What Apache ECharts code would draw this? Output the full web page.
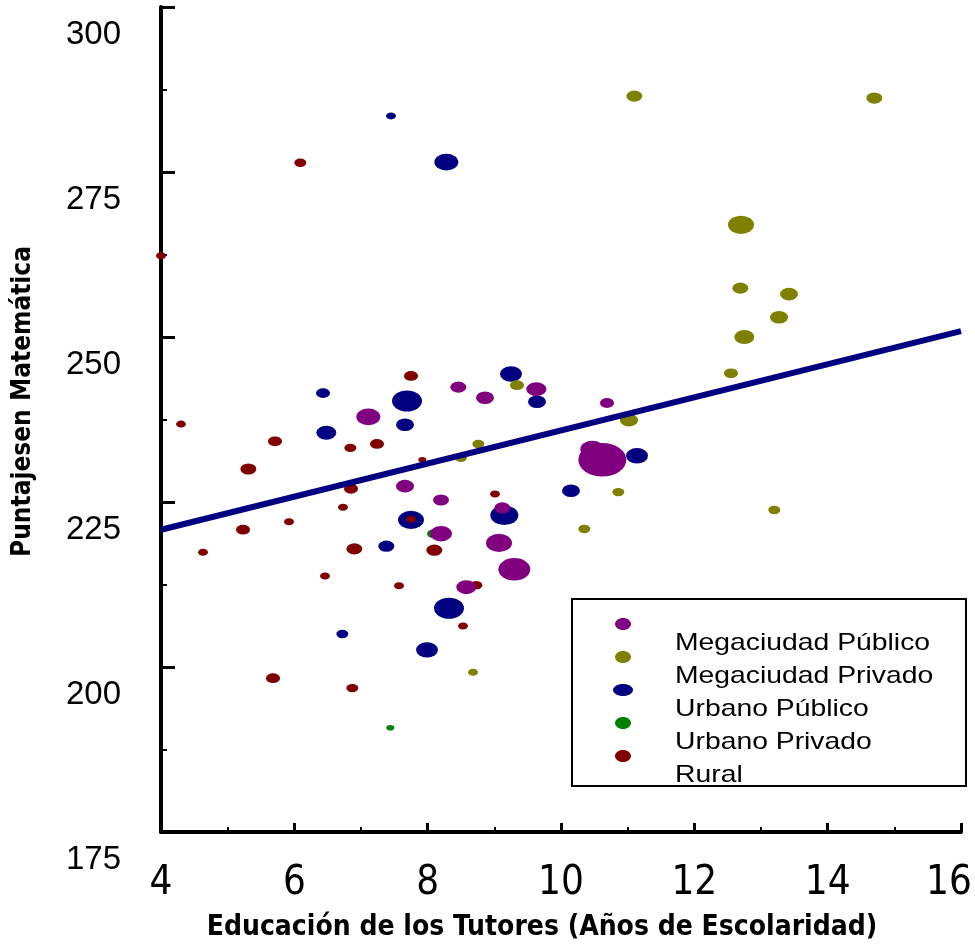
<!DOCTYPE html>
<html>
<head>
<meta charset="utf-8">
<script src="https://cdn.jsdelivr.net/npm/echarts@6/dist/echarts.min.js"></script>
<style>
html,body{margin:0;padding:0;background:#fff;}
#c{width:975px;height:945px;}
</style>
</head>
<body>
<div id="c"></div>
<script>
// ---- data ----
var categories = ['Megaciudad Público','Megaciudad Privado','Urbano Público','Urbano Privado','Rural'];
var colors = ['#800080','#808000','#000080','#008000','#800000'];
var xTicks = [4,6,8,10,12,14,16];
var yTicks = [175,200,225,250,275,300];
// [educación, puntaje, peso]
var megaPublico = [
  [9.63,242.1,10],[8.86,240.8,9],[10.69,240.0,7],[10.47,233.0,12],[10.62,231.4,24],
  [9.12,224.1,8],[9.07,218.8,13],[9.30,214.8,16],[8.46,242.4,8],[7.11,237.9,12],
  [7.66,227.4,9],[8.20,225.3,8],[8.20,220.2,11],[8.58,212.1,10]
];
var megaPrivado = [
  [11.10,286.5,8],[14.70,286.2,8],[12.70,267.0,13],[12.69,257.4,8],[13.42,256.5,9],
  [13.27,253.0,9],[12.75,250.0,10],[12.55,244.5,7],[9.34,242.7,7],[11.02,237.4,9],
  [8.76,233.8,6],[10.86,226.5,6],[13.20,223.8,6],[10.35,220.9,6],[8.50,231.7,6],[8.68,199.2,5]
];
var urbanoPublico = [
  [7.45,283.5,5],[8.28,276.5,12],[9.25,244.4,11],[9.64,240.2,9],[11.14,232.0,11],
  [10.15,226.7,9],[9.15,223.0,14],[6.43,241.5,7],[7.69,240.3,15],[7.66,236.7,9],
  [6.48,235.5,10],[7.75,222.3,13],[7.38,218.3,8],[8.32,208.9,15],[6.72,205.0,6],[7.99,202.6,11]
];
var urbanoPrivado = [
  [8.08,220.2,6],[7.44,190.8,4]
];
var rural = [
  [4.00,262.3,5],[6.09,276.4,6],[9.01,226.2,5],[7.75,244.1,7],[4.30,236.8,5],
  [5.71,234.2,7],[6.84,233.2,6],[7.24,233.8,7],[5.31,230.0,8],[7.92,231.4,4],
  [6.85,227.0,7],[6.73,224.2,5],[7.75,222.4,5],[5.92,222.0,5],[5.23,220.8,7],
  [8.10,217.7,8],[6.90,217.9,8],[4.63,217.4,5],[6.46,213.8,5],[7.57,212.3,5],
  [8.73,212.4,6],[8.53,206.2,5],[5.68,198.3,7],[6.87,196.8,6]
];
var regX = [4,16];
var regY = [220.8,250.9];

// ---- chart ----
var chart = echarts.init(document.getElementById('c'), null, {renderer:'canvas'});
var seriesData = [megaPublico, megaPrivado, urbanoPublico, urbanoPrivado, rural];
var drawOrder = [2,4,3,1,0];
function sz(v){ return [v[2]*2, v[2]*1.4]; }
var series = drawOrder.map(function(i, k){
  return {
    type:'scatter', name:categories[i], data:seriesData[i],
    symbol:'circle', symbolSize:sz, z:2+k,
    itemStyle:{color:colors[i], opacity:1},
    emphasis:{disabled:true}, silent:true
  };
});
series.push({
  type:'line', name:'tendencia', data:regX.map(function(x,i){return [x,regY[i]];}),
  showSymbol:false, z:20, silent:true,
  lineStyle:{color:'#000080', width:6}
});

var legendGraphics = [{
  type:'rect', left:571, top:598, z:30,
  shape:{width:394, height:187},
  style:{fill:'#fff', stroke:'#000', lineWidth:2}
}];
categories.forEach(function(name,i){
  legendGraphics.push({
    type:'ellipse', z:31, shape:{cx:623, cy:624+i*33, rx:(i===2?10:8), ry:6},
    style:{fill:colors[i]}
  });
  legendGraphics.push({
    type:'text', z:31, x:675, y:643+i*33, scaleX:1.18,
    style:{text:name, fill:'#000', font:'24px "Liberation Sans", Arial, sans-serif', verticalAlign:'middle'}
  });
});

var narrow = '"Liberation Sans Narrow", "DejaVu Sans Condensed", "Liberation Sans", sans-serif';
var lastX = xTicks[xTicks.length-1];

chart.setOption({
  animation:false,
  backgroundColor:'#fff',
  grid:{left:161, right:14, top:7, bottom:113, containLabel:false, outerBoundsMode:'none'},
  xAxis:{
    type:'value', min:4, max:16, interval:2,
    name:'Educación de los Tutores (Años de Escolaridad)',
    nameLocation:'middle', nameGap:82,
    nameTextStyle:{fontFamily:narrow, fontWeight:'bold', fontSize:28, color:'#000', padding:[0,38,0,0]},
    axisLine:{show:true, onZero:false, lineStyle:{color:'#000', width:4}},
    axisTick:{show:true, inside:true, length:9, lineStyle:{color:'#000', width:3}},
    minorTick:{show:true, splitNumber:2, length:5, lineStyle:{color:'#000', width:2}},
    axisLabel:{fontFamily:narrow, fontSize:40, color:'#000', margin:32,
      rich:{r:{fontFamily:narrow, fontSize:40, color:'#000', padding:[0,24,0,0]}},
      formatter:function(v){
        if (xTicks.indexOf(v) < 0) return '';
        return v === lastX ? '{r|' + v + '}' : String(v);
      }},
    splitLine:{show:false}
  },
  yAxis:{
    type:'value', min:175, max:300, interval:25,
    name:'Puntajesen Matemática',
    nameLocation:'middle', nameGap:125, nameRotate:90,
    nameTextStyle:{fontFamily:narrow, fontWeight:'bold', fontSize:26, color:'#000', padding:[0,0,0,36]},
    axisLine:{show:true, onZero:false, lineStyle:{color:'#000', width:4}},
    axisTick:{show:true, inside:true, length:14, lineStyle:{color:'#000', width:3}},
    minorTick:{show:true, splitNumber:2, length:6, lineStyle:{color:'#000', width:2}},
    axisLabel:{fontFamily:'"Liberation Sans", Arial, sans-serif', fontSize:33, color:'#000', margin:40,
      verticalAlign:'top', lineHeight:56,
      formatter:function(v){ return yTicks.indexOf(v)>=0 ? String(v) : ''; }},
    splitLine:{show:false}
  },
  series:series,
  graphic:legendGraphics
});
</script>
</body>
</html>
